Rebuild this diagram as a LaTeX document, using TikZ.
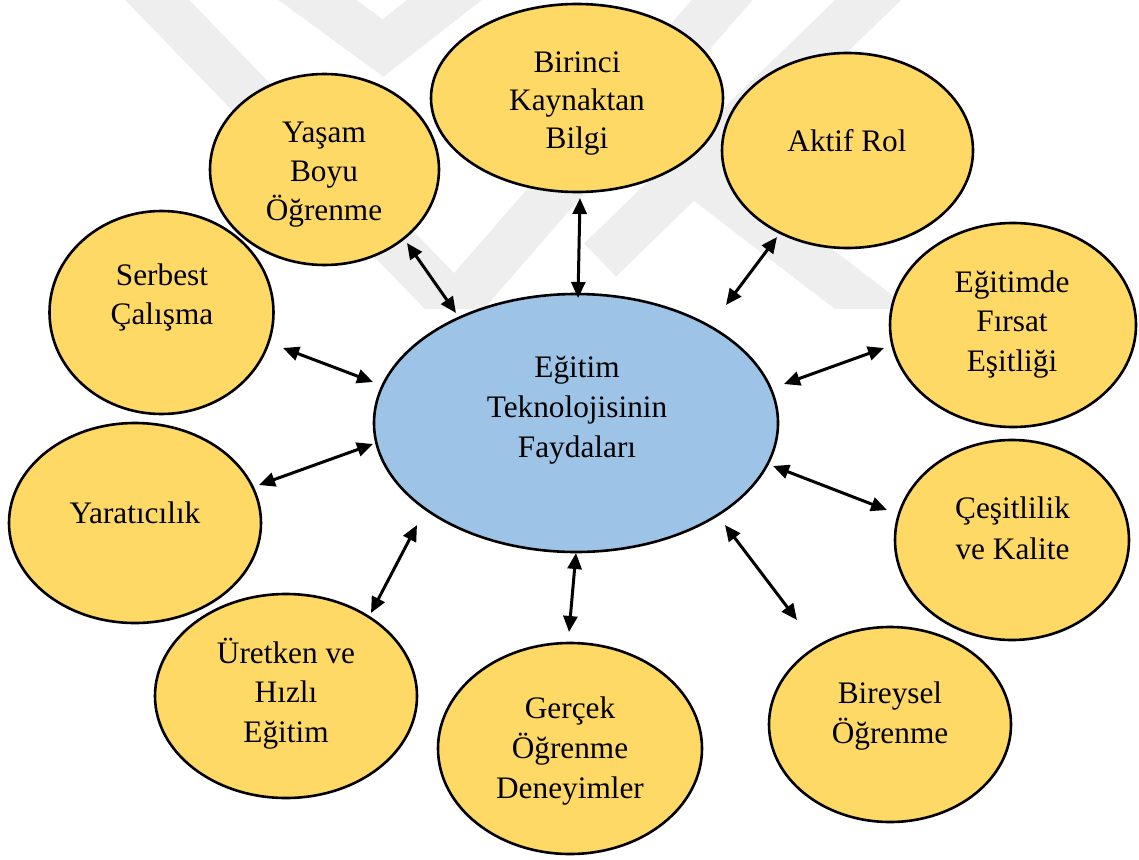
\documentclass[tikz,border=0pt]{standalone}
\usepackage{fontspec}
\setmainfont{Liberation Serif}
\usetikzlibrary{arrows.meta,shapes.geometric}
\definecolor{gold}{HTML}{FFD966}
\definecolor{sky}{HTML}{9DC3E6}
\definecolor{wmgray}{HTML}{EEEEEE}
\tikzset{
  blob/.style={ellipse, draw=black, line width=2.6pt, fill=gold, inner sep=0pt},
  hub/.style={blob, fill=sky},
  lbl/.style={anchor=base, inner sep=0pt, font=\fontsize{31.3}{40}\selectfont},
  link/.style={{Triangle[length=16pt,width=14pt]}-{Triangle[length=16pt,width=14pt]}, line width=3pt},
  wm/.style={draw=wmgray, line width=46pt, line join=miter}
}
\begin{document}
\begin{tikzpicture}[x=1pt,y=-1pt]
\useasboundingbox (0,0) rectangle (1139,859);
% faint watermark
\begin{scope}
  \clip (0,0) rectangle (1139,308);
  \draw[wm] (127,-31) -- (455,307) -- (749,-31);
  \draw[wm] (290,-20) -- (383,48) -- (470,-20);
  \draw[wm] (900,-31) -- (600,260);
  \draw[wm] (698,175) -- (900,330);
\end{scope}
% ellipses
\node[hub,  minimum width=404pt, minimum height=258pt] (hub) at (576,423) {};
\node[blob, minimum width=292pt, minimum height=188pt] (bir) at (577,98) {};
\node[blob, minimum width=229pt, minimum height=191pt] (yas) at (324.5,169.5) {};
\node[blob, minimum width=251pt, minimum height=195pt] (akt) at (847.5,150.5) {};
\node[blob, minimum width=246pt, minimum height=204pt] (egf) at (1013,325) {};
\node[blob, minimum width=234pt, minimum height=200pt] (ces) at (1012,540) {};
\node[blob, minimum width=242pt, minimum height=195pt] (bry) at (890,724.5) {};
\node[blob, minimum width=264pt, minimum height=211pt] (ger) at (570,748.5) {};
\node[blob, minimum width=262pt, minimum height=204pt] (ure) at (286,696) {};
\node[blob, minimum width=252pt, minimum height=200pt] (yar) at (135,523) {};
\node[blob, minimum width=224pt, minimum height=203pt] (ser) at (161.5,312.5) {};
% texts
\node[lbl] (hub1) at (577,377) {Eğitim};
\node[lbl] (hub2) at (577,417) {Teknolojisinin};
\node[lbl] (hub3) at (577,457) {Faydaları};
\node[lbl] (bir1) at (577,72) {Birinci};
\node[lbl] (bir2) at (577,110) {Kaynaktan};
\node[lbl] (bir3) at (577,148) {Bilgi};
\node[lbl] (yas1) at (324,142) {Yaşam};
\node[lbl] (yas2) at (324,181) {Boyu};
\node[lbl] (yas3) at (324,220) {Öğrenme};
\node[lbl] (akt1) at (847,151) {Aktif Rol};
\node[lbl] (egf1) at (1012,292) {Eğitimde};
\node[lbl] (egf2) at (1012,331.5) {Fırsat};
\node[lbl] (egf3) at (1012,371) {Eşitliği};
\node[lbl] (ces1) at (1012.5,518) {Çeşitlilik};
\node[lbl] (ces2) at (1012.5,559) {ve Kalite};
\node[lbl] (bry1) at (890,703) {Bireysel};
\node[lbl] (bry2) at (890,743) {Öğrenme};
\node[lbl] (ger1) at (570,718) {Gerçek};
\node[lbl] (ger2) at (570,758) {Öğrenme};
\node[lbl] (ger3) at (570,798) {Deneyimler};
\node[lbl] (ure1) at (286,663) {Üretken ve};
\node[lbl] (ure2) at (286,702) {Hızlı};
\node[lbl] (ure3) at (286,742) {Eğitim};
\node[lbl] (yar1) at (135,523) {Yaratıcılık};
\node[lbl] (ser1) at (162,285) {Serbest};
\node[lbl] (ser2) at (162,324) {Çalışma};
% connector ends
\coordinate (b1) at (580,198); \coordinate (h1) at (578,298);
\coordinate (b2) at (777,237); \coordinate (h2) at (726,305);
\coordinate (b3) at (407,243); \coordinate (h3) at (456,313);
\coordinate (b4) at (283,348); \coordinate (h4) at (373,382);
\coordinate (b5) at (259,485); \coordinate (h5) at (373,444);
\coordinate (b6) at (371,613); \coordinate (h6) at (417,525);
\coordinate (b7) at (569,632); \coordinate (h7) at (576,553);
\coordinate (b8) at (797,620); \coordinate (h8) at (725,525);
\coordinate (b9) at (887,510); \coordinate (h9) at (773,466);
\coordinate (b10) at (884,348); \coordinate (h10) at (784,384);
\foreach \i in {1,...,10} \draw[link] (b\i) -- (h\i);
\end{tikzpicture}
\end{document}
